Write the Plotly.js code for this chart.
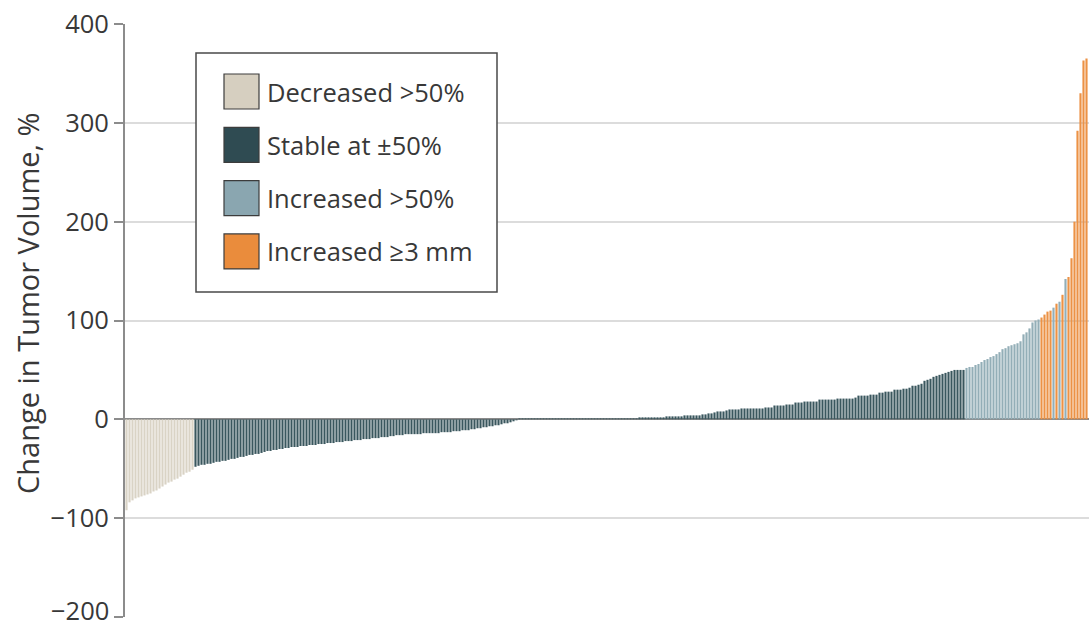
<!DOCTYPE html>
<html>
<head>
<meta charset="utf-8">
<script src="https://cdn.plot.ly/plotly-3.0.1.min.js"></script>
<style>html,body{margin:0;padding:0;background:#fff;}#chart{width:1089px;height:628px;}</style>
</head>
<body>
<div id="chart"></div>
<script>
// ---- Data (percent change in tumor volume, sorted) ----
var decreased = [-92,-84,-82,-80,-79,-78,-77,-76,-75,-73,-72,-70,-68,-66,-64,-63,-61,-60,-58,-56,-54,-53,-51];
var stableNeg = [-48,-47,-46,-46,-45,-45,-44,-43,-43,-42,-42,-41,-40,-40,-39,-38,-38,-37,-36,-36,
  -35,-35,-34,-33,-32,-32,-31,-31,-30,-30,-29,-29,-28,-28,-28,-27,-27,-27,-26,-26,
  -26,-25,-25,-25,-24,-24,-24,-23,-23,-23,-22,-22,-22,-21,-21,-21,-20,-20,-20,-19,
  -19,-19,-18,-18,-18,-17,-17,-16,-16,-16,-15,-15,-15,-15,-15,-15,-14,-14,-14,-14,
  -14,-14,-13,-13,-13,-13,-12,-12,-12,-11,-11,-11,-10,-10,-9,-9,-8,-8,-7,-7,
  -6,-6,-5,-4,-4,-3,-2,-1];
var stableZero = [1,1,1,1,1,1,1,1,1,1,1,1,1,1,1,1,1,1,1,1,
  1,1,1,1,1,1,1,1,1,1,1,1,1,1,1,1,1,1,1,1];
var stablePos = [2,2,2,2,2,2,2,2,2,3,3,3,3,3,3,4,4,4,4,4,
  4,5,5,6,6,7,8,8,8,9,10,10,10,10,11,11,11,11,11,11,
  11,11,12,12,12,14,14,14,14,15,15,15,17,17,17,18,18,18,18,18,
  20,20,20,20,20,20,21,21,21,21,21,21,22,24,24,24,24,25,25,25,
  27,27,28,28,28,30,30,30,31,31,32,34,34,35,36,39,40,41,43,44,
  45,46,47,48,49,50,50,50,50];
var increased = [52,53,53,55,56,58,60,61,63,64,66,68,71,72,74,75,76,77,79,86,88,92,98,100,101];
var tailValues = [103,106,109,110,113,117,119,126,142,144,163,200,292,330,363,365];
var tailGroups = ['O','O','O','O','B','O','B','O','B','O','O','O','O','O','O','O'];

var categoryNames = ['Decreased >50%', 'Stable at \u00b150%', 'Increased >50%', 'Increased \u22653 mm'];
var swatchColors = ['#d6cfc0', '#2f4b52', '#8aa6b0', '#ea8c3c'];
var barColors = ['#d9d3c5', '#3a575e', '#93aeb7', '#ec9245'];
var yTicks = [-200, -100, 0, 100, 200, 300, 400];
var yTickText = ['', '\u2212100', '0', '100', '200', '300', '400'];
var bottomTickText = '\u2212200';
var yTitle = 'Change in Tumor Volume, %';

// ---- Build series ----
var values = [], cats = [];
function add(arr, c){ arr.forEach(function(v){ values.push(v); cats.push(c); }); }
add(decreased, 0); add(stableNeg, 1); add(stableZero, 1); add(stablePos, 1); add(increased, 2);
tailValues.forEach(function(v, i){ values.push(v); cats.push(tailGroups[i] === 'O' ? 3 : 2); });

var traces = categoryNames.map(function(name, c){
  var xs = [], ys = [];
  values.forEach(function(v, i){ if (cats[i] === c) { xs.push(i); ys.push(v); } });
  return {type:'bar', name:name, x:xs, y:ys, marker:{color:barColors[c], line:{width:0}},
          hoverinfo:'y', showlegend:false};
});

var FONT = '"Open Sans", "Noto Sans", sans-serif';
var TXT = '#383838';

// ---- Custom legend (big swatches) ----
var W = 964, H = 593; // plot area size in px
function px(x){ return (x - 125) / W; }
function py(y){ return (617 - y) / H; }
var shapes = [{type:'rect', xref:'paper', yref:'paper', x0:px(196), x1:px(497), y0:py(53), y1:py(292),
  line:{color:'#4a4a4a', width:1.5}, fillcolor:'#ffffff', layer:'above'}];
var annotations = [];
categoryNames.forEach(function(name, c){
  var top = 74 + c * 53.3;
  shapes.push({type:'rect', xref:'paper', yref:'paper', x0:px(224), x1:px(259), y0:py(top), y1:py(top+35),
    line:{color:'#3c3c3c', width:1.2}, fillcolor:swatchColors[c], layer:'above'});
  annotations.push({xref:'paper', yref:'paper', x:px(265), y:py(top+17.5), xanchor:'left', yanchor:'middle',
    text:name, showarrow:false, font:{family:FONT, size:25.5, color:TXT}});
});
// y-axis title
annotations.push({xref:'paper', yref:'paper', x:px(27), y:py(303), xanchor:'center', yanchor:'middle',
  textangle:-90, text:yTitle, showarrow:false, font:{family:FONT, size:29, color:TXT}});
// bottom tick label kept inside the page
annotations.push({xref:'paper', yref:'y', x:px(110), y:yTicks[0], xanchor:'right', yanchor:'bottom', yshift:-11,
  text:bottomTickText, showarrow:false, borderpad:0, font:{family:FONT, size:25.5, color:TXT}});

var layout = {
  width:1089, height:628,
  margin:{l:125, r:0, t:24, b:11},
  paper_bgcolor:'#ffffff', plot_bgcolor:'#ffffff',
  barmode:'overlay', bargap:0.28,
  showlegend:false,
  xaxis:{range:[-0.5, (W/3) - 0.5], showticklabels:false, showgrid:false, zeroline:false, ticks:'', showline:false, fixedrange:true},
  yaxis:{range:[-200, 400], tickvals:yTicks, ticktext:yTickText, ticks:'outside', ticklen:9, tickwidth:2, tickcolor:'#8c8c8c',
    showline:true, linecolor:'#8c8c8c', linewidth:2,
    showgrid:true, gridcolor:'#dcdcdc', gridwidth:2,
    zeroline:true, zerolinecolor:'#8a8a8a', zerolinewidth:2,
    tickfont:{family:FONT, size:25.5, color:TXT},
    fixedrange:true},
  shapes:shapes, annotations:annotations
};

Plotly.newPlot('chart', traces, layout, {displayModeBar:false, staticPlot:true});
</script>
</body>
</html>
